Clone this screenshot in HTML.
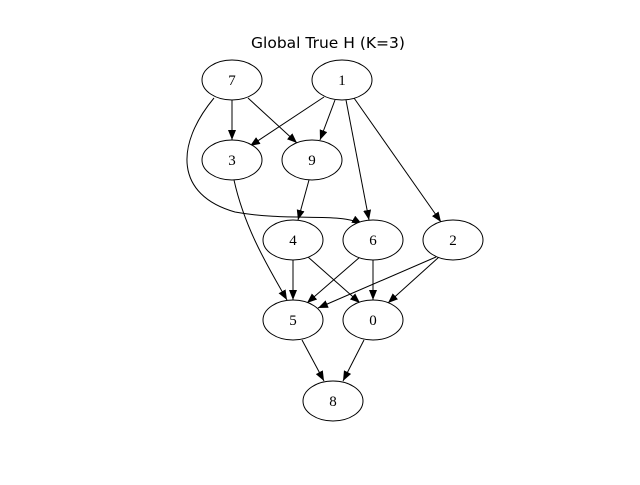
<!DOCTYPE html>
<html><head><meta charset="utf-8"><style>body{margin:0;background:#fff}</style></head><body>
<svg width="640" height="480" xmlns="http://www.w3.org/2000/svg">
<defs><marker id="a" markerWidth="10" markerHeight="8" refX="10" refY="4" orient="auto" markerUnits="userSpaceOnUse"><path d="M0,0 L10,4 L0,8 z" fill="#000"/></marker></defs>
<text x="328" y="48" font-family="DejaVu Sans, Liberation Sans, sans-serif" font-size="15.5" text-anchor="middle">Global True H (K=3)</text>
<g stroke="#000" stroke-width="1" fill="none" marker-end="url(#a)">
<path d="M232,100 L232,140"/>
<path d="M248,98 L297,143"/>
<path d="M214,98 C175,145 175,195 235,212 C290,222 340,212 362,224"/>
<path d="M324,97 L250,146"/>
<path d="M335,100 L320,140"/>
<path d="M346,100 L369,220"/>
<path d="M354,98 L441,222"/>
<path d="M234,180 C245,230 270,270 287,300"/>
<path d="M309,180 L298,220"/>
<path d="M293,260 L293,300"/>
<path d="M308,257 L360,303"/>
<path d="M360,257 L307,303"/>
<path d="M373,260 L373,300"/>
<path d="M436,257 L318,308"/>
<path d="M439,257 L388,303"/>
<path d="M302,340 L324,381"/>
<path d="M364,340 L343,381"/>
</g>
<g stroke="#000" fill="#fff">
<ellipse cx="232" cy="80" rx="30" ry="20"/>
<ellipse cx="342" cy="80" rx="30" ry="20"/>
<ellipse cx="232" cy="160" rx="30" ry="20"/>
<ellipse cx="312" cy="160" rx="30" ry="20"/>
<ellipse cx="293" cy="240" rx="30" ry="20"/>
<ellipse cx="373" cy="240" rx="30" ry="20"/>
<ellipse cx="453" cy="240" rx="30" ry="20"/>
<ellipse cx="293" cy="320" rx="30" ry="20"/>
<ellipse cx="373" cy="320" rx="30" ry="20"/>
<ellipse cx="333" cy="401" rx="30" ry="20"/>
</g>
<g font-family="Liberation Serif, DejaVu Serif, serif" font-size="15" text-anchor="middle">
<text x="232" y="85">7</text><text x="342" y="85">1</text>
<text x="232" y="165">3</text><text x="312" y="165">9</text>
<text x="293" y="245">4</text><text x="373" y="245">6</text><text x="453" y="245">2</text>
<text x="293" y="325">5</text><text x="373" y="325">0</text>
<text x="333" y="406">8</text>
</g>
</svg>
</body></html>
